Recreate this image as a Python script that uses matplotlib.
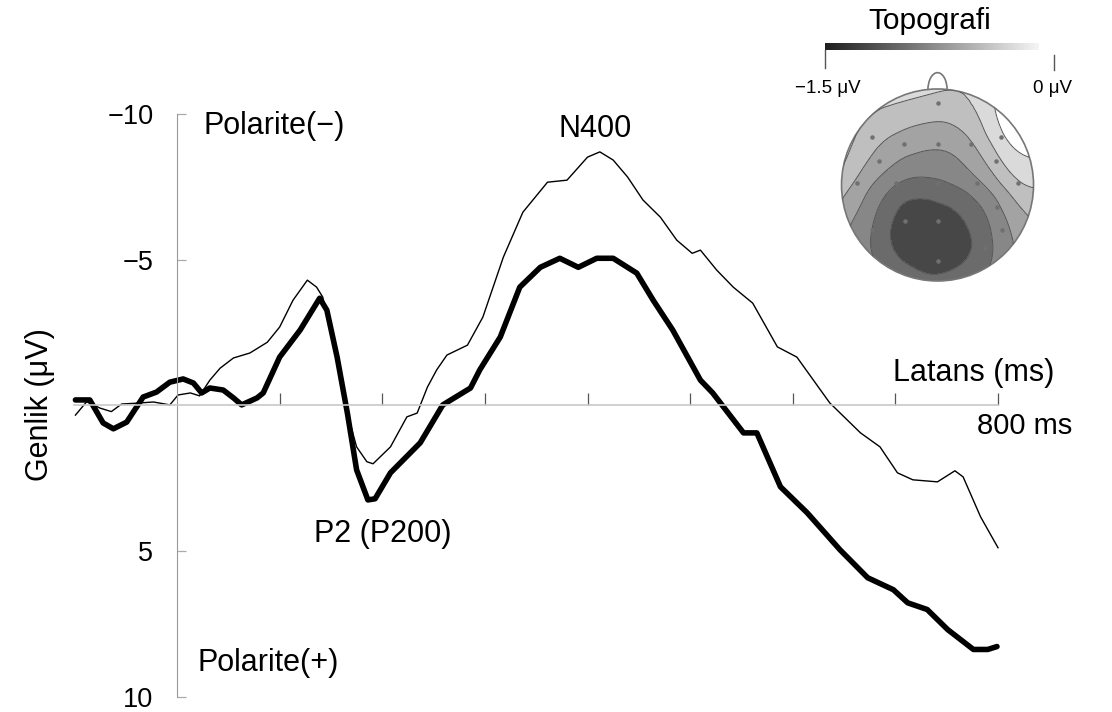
import numpy as np
import matplotlib
matplotlib.use('Agg')
import matplotlib.pyplot as plt
import matplotlib.tri as mtri
from matplotlib.patches import Circle, Arc

plt.rcParams['font.family'] = ['Liberation Sans', 'DejaVu Sans']

# ERP waveforms (ms, µV; negative up)
thin_t = [-99, -88, -75, -64, -54, -39, -23, -7, 1, 13, 22, 32, 42, 55, 71, 88, 100, 113, 127, 136,
          142, 156, 166, 175, 185, 191, 208, 224, 234, 244, 253, 263, 283, 298, 318, 337, 361, 380,
          400, 412, 425, 439, 454, 471, 487, 502, 510, 526, 542, 561, 585, 604, 636, 666, 685, 702,
          717, 741, 758, 766, 783, 800]
thin_v = [0.33, -0.13, 0.09, 0.21, -0.05, -0.08, -0.12, -0.02, -0.36, -0.43, -0.33, -0.87, -1.28,
          -1.63, -1.80, -2.17, -2.69, -3.61, -4.30, -4.06, -3.72, -1.56, 0.26, 1.42, 1.93, 2.00, 1.42,
          0.39, 0.26, -0.63, -1.22, -1.73, -2.07, -3.03, -5.09, -6.63, -7.66, -7.73, -8.52, -8.70,
          -8.42, -7.84, -7.05, -6.46, -5.67, -5.22, -5.33, -4.64, -4.06, -3.51, -2.01, -1.66, -0.09,
          0.94, 1.42, 2.31, 2.55, 2.62, 2.24, 2.45, 3.82, 4.88]

thick_t = [-99, -85, -72, -62, -49, -33, -20, -7, 6, 16, 24, 32, 45, 55, 63, 78, 84, 100, 120, 139,
           146, 156, 166, 175, 186, 193, 208, 237, 259, 286, 295, 315, 334, 354, 373, 391, 409, 425,
           448, 464, 483, 510, 522, 552, 565, 588, 614, 646, 673, 698, 712, 731, 751, 776, 790, 799]
thick_v = [-0.19, -0.19, 0.60, 0.80, 0.57, -0.29, -0.46, -0.80, -0.91, -0.77, -0.43, -0.60, -0.53,
           -0.26, -0.02, -0.26, -0.43, -1.66, -2.59, -3.68, -3.27, -1.66, 0.26, 2.21, 3.24, 3.20,
           2.31, 1.28, -0.02, -0.60, -1.22, -2.35, -4.06, -4.74, -5.05, -4.74, -5.05, -5.05, -4.54,
           -3.61, -2.59, -0.87, -0.43, 0.94, 0.94, 2.79, 3.68, 4.95, 5.91, 6.32, 6.77, 7.00, 7.69,
           8.37, 8.37, 8.27]

x_ticks = [100, 200, 300, 400, 500, 600, 700, 800]
y_ticks = [-10, -5, 5, 10]
y_tick_labels = ['\u221210', '\u22125', '5', '10']

# topography: electrode positions (unit head) and estimated amplitudes (µV)
elec_u = [0, -0.68, -0.35, 0, 0.35, 0.665, -0.61, 0.61, -0.835, -0.43, 0, 0.415, 0.84,
          -0.685, 0.62, -0.34, 0, 0.67, 0.495, 0, -0.08]
elec_v = [0.854, 0.50, 0.43, 0.43, 0.43, 0.50, 0.25, 0.25, 0.02, 0.02, 0.02, 0.02, 0.02,
          -0.47, -0.23, -0.38, -0.38, -0.47, -0.66, -0.79, -0.55]
elec_val = [-0.33, -0.40, -0.62, -0.70, -0.52, -0.05, -0.60, -0.33, -0.55, -0.98, -1.04, -0.80,
            -0.28, -1.0, -0.80, -1.38, -1.42, -0.85, -1.10, -1.35, -1.48]
rim_angle = [90, 60, 45, 30, 15, 0, -30, -60, -90, -120, -150, 180, 150, 120]
rim_val = [-0.18, -0.05, 0.22, 0.22, 0.0, -0.22, -0.60, -0.95, -1.15, -1.0, -0.78, -0.28,
           -0.15, -0.15]
topo_levels = [-2, -1.25, -1.0, -0.75, -0.5, -0.25, 0, 1]
topo_colors = ['#474747', '#6b6b6b', '#878787', '#a3a3a3', '#bfbfbf', '#dadada', '#ffffff']

fig = plt.figure(figsize=(11.12, 7.12), dpi=100)
ax = fig.add_axes([0.0669, 0.0211, 0.8306, 0.8188])
ax.patch.set_alpha(0)

ax.plot(thin_t, thin_v, color='black', lw=1.0, clip_on=False)
ax.plot(thick_t, thick_v, color='black', lw=4.0, clip_on=False, solid_joinstyle='round',
        solid_capstyle='round')

ax.set_xlim(-100, 800)
ax.set_ylim(10, -10)
ax.spines['top'].set_visible(False)
ax.spines['right'].set_visible(False)
ax.spines['left'].set_position(('data', 0))
ax.spines['left'].set_color('#999999')
ax.spines['bottom'].set_position(('data', 0))
ax.spines['bottom'].set_color('#c8c8c8')
ax.spines['bottom'].set_linewidth(1.2)

ax.set_xticks(x_ticks)
ax.tick_params(axis='x', direction='in', length=8.5, width=0.9, color='#555555', labelbottom=False)
ax.set_yticks(y_ticks)
ax.set_yticklabels(y_tick_labels)
ax.tick_params(axis='y', direction='in', length=6.5, width=0.9, color='#aaaaaa', pad=17,
               labelsize=19.5)

ax.text(26, -9.6, 'Polarite(\u2212)', fontsize=22, ha='left', va='center')
ax.text(20, 8.82, 'Polarite(+)', fontsize=22, ha='left', va='center')
ax.text(407, -9.47, 'N400', fontsize=22, ha='center', va='center')
ax.text(200, 4.40, 'P2 (P200)', fontsize=22, ha='center', va='center')
ax.text(776, -1.11, 'Latans (ms)', fontsize=22, ha='center', va='center')
ax.text(780, 0.70, '800 ms', fontsize=21, ha='left', va='center')
fig.text(40 / 1112, 1 - 405 / 712, 'Genlik (\u03bcV)', fontsize=22, rotation=90,
         ha='center', va='center')

# topography inset
tax = fig.add_axes([0.7136, 0.5986, 0.259, 0.3978])
rad = np.deg2rad(rim_angle)
pts_u = np.concatenate([elec_u, 1.08 * np.cos(rad)])
pts_v = np.concatenate([elec_v, 1.08 * np.sin(rad)])
pts_z = np.concatenate([elec_val, rim_val])
tri = mtri.Triangulation(pts_u, pts_v)
tri_r, z_r = mtri.UniformTriRefiner(tri).refine_field(pts_z, subdiv=3)

head = Circle((0, 0), 1.0, transform=tax.transData)
cf = tax.tricontourf(tri_r, z_r, levels=topo_levels, colors=topo_colors)
cf.set_clip_path(head)
cl = tax.tricontour(tri_r, z_r, levels=topo_levels[1:-1], colors='#555555', linewidths=0.7,
                    linestyles='solid')
cl.set_clip_path(head)
tax.add_patch(Circle((0, 0), 1.0, fill=False, ec='#777777', lw=1.2))
tax.add_patch(Arc((0, 0.99), 0.2, 0.36, theta1=0, theta2=180, ec='#777777', lw=1.2))
tax.scatter(elec_u[:-1], elec_v[:-1], s=5, color='#707070', zorder=3)

grad = np.linspace(0.12, 0.96, 256)[None, :]
tax.imshow(grad, cmap='gray', vmin=0, vmax=1, extent=(-1.17, 1.05, 1.406, 1.469), aspect='auto')
tax.plot([-1.17, -1.17], [1.219, 1.406], color='#555555', lw=1.0)
tax.plot([1.214, 1.214], [1.198, 1.354], color='#555555', lw=1.0)
tax.text(-1.14, 1.0, '\u22121.5 \u03bcV', fontsize=13.5, ha='center', va='center')
tax.text(1.198, 1.0, '0 \u03bcV', fontsize=13.5, ha='center', va='center')
tax.text(-0.08, 1.71, 'Topografi', fontsize=21.5, ha='center', va='center')
tax.set_xlim(-1.5, 1.5)
tax.set_ylim(-1.05, 1.9)
tax.axis('off')

fig.savefig('out.png', dpi=100)
